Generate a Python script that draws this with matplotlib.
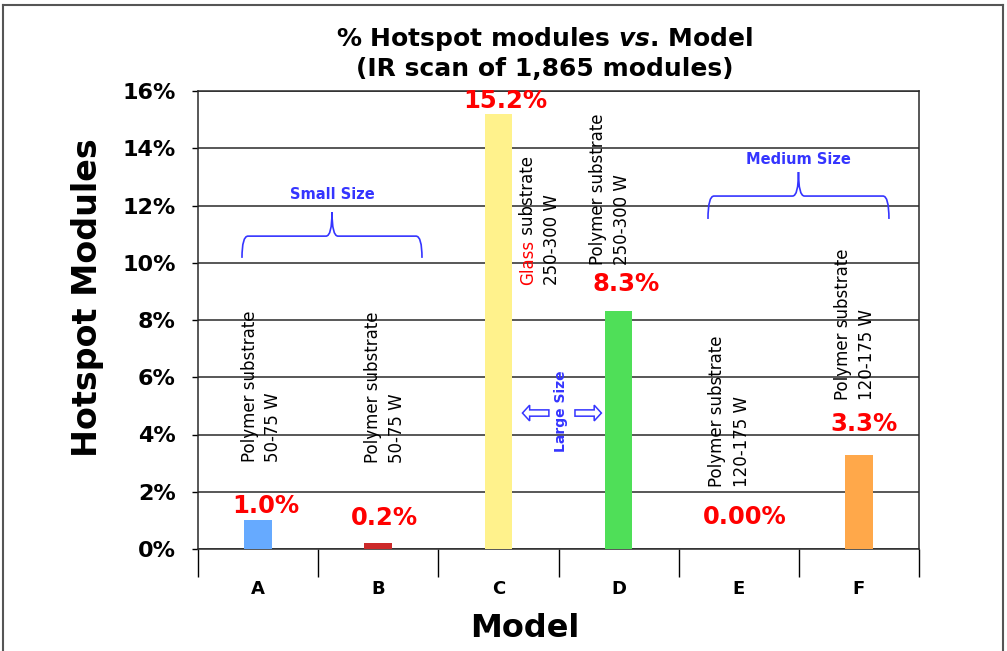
import matplotlib
matplotlib.use("Agg")
import matplotlib.pyplot as plt
import numpy as np
from matplotlib.path import Path
from matplotlib.patches import PathPatch, FancyArrow
from matplotlib.lines import Line2D

plt.rcParams["font.family"] = ["DejaVu Sans"]
plt.rcParams["mathtext.fontset"] = "custom"
plt.rcParams["mathtext.it"] = "DejaVu Sans:italic:bold"

# data
models = ["A", "B", "C", "D", "E", "F"]
values = [1.0, 0.2, 15.2, 8.3, 0.0, 3.3]
value_labels = ["1.0%", "0.2%", "15.2%", "8.3%", "0.00%", "3.3%"]
bar_colors = ["#66aaff", "#cc2a2a", "#fff28c", "#4fdf58", "#ffffff", "#ffa84a"]
note_line1 = ["Polymer substrate", "Polymer substrate", "Glass substrate",
              "Polymer substrate", "Polymer substrate", "Polymer substrate"]
note_line2 = ["50-75 W", "50-75 W", "250-300 W", "250-300 W", "120-175 W", "120-175 W"]
yticks = [0, 2, 4, 6, 8, 10, 12, 14, 16]

# layout (positions of hand-placed labels, in data units)
lab_xy = [(0.066, 1.5), (1.052, 1.08), (2.055, 15.65), (3.06, 9.26), (4.05, 1.12), (5.04, 4.37)]
note_x1 = [-0.065, 0.955, 2.245, 2.83, 3.82, 4.87]
note_x2 = [0.125, 1.16, 2.445, 3.03, 4.03, 5.07]
note_y = [3.04, 3.0, 9.22, 9.92, 2.17, 5.2]

BLUE = "#3535ff"
RED = "#ff0000"

fig = plt.figure(figsize=(10.07, 6.51), dpi=100)
ax = fig.add_axes([198 / 1007, 1 - 549 / 651, 721 / 1007, 458 / 651])

x = np.arange(len(models))
ax.bar(x, values, width=0.23, color=bar_colors, zorder=3)

ax.set_xlim(-0.5, 5.5)
ax.set_ylim(0, 16)
ax.set_yticks(yticks)
ax.set_yticklabels([f"{t}%" for t in yticks], fontsize=16, fontweight="bold")
ax.yaxis.grid(True, color="#2a2a2a", lw=1.1, zorder=0)
ax.tick_params(axis="y", length=4, width=1, pad=12, direction="out")

ax.set_xticks(x)
ax.set_xticklabels(models, fontsize=13, fontweight="bold")
ax.set_xticks(np.arange(-0.5, 6.0, 1.0), minor=True)
ax.tick_params(axis="x", which="major", length=0, pad=22)
ax.tick_params(axis="x", which="minor", length=20, width=1, direction="out")
for s in ax.spines.values():
    s.set_color("#2a2a2a")
    s.set_linewidth(1.1)

ax.set_xlabel("Model", fontsize=23, fontweight="bold")
ax.xaxis.set_label_coords(0.4535, -0.1725)
ax.xaxis.label.set_va("center")
ax.set_ylabel("Hotspot Modules", fontsize=24, fontweight="bold")
ax.yaxis.set_label_coords(-0.153, 0.548)
ax.yaxis.label.set_va("center")

# value labels
for (lx, ly), t in zip(lab_xy, value_labels):
    ax.text(lx, ly, t, color=RED, fontsize=17.5, fontweight="bold", ha="center", va="center", zorder=4)

# rotated notes
NOTE_FS = 12
for i in range(len(models)):
    if note_line1[i].startswith("Glass"):
        t1 = ax.text(note_x1[i], note_y[i], "Glass", color=RED, fontsize=NOTE_FS, rotation=90,
                     ha="center", va="bottom", zorder=4)
        ax.annotate(" substrate", xy=(0.5, 1), xycoords=t1, fontsize=NOTE_FS, rotation=90,
                    ha="center", va="bottom", zorder=4)
    else:
        ax.text(note_x1[i], note_y[i], note_line1[i], fontsize=NOTE_FS, rotation=90,
                ha="center", va="bottom", zorder=4)
    ax.text(note_x2[i], note_y[i], note_line2[i], fontsize=NOTE_FS, rotation=90,
            ha="center", va="bottom", zorder=4)


def brace(x0, x1, yb, ym, yt):
    xc = (x0 + x1) / 2
    r = 0.05
    verts = [(x0, yb), (x0, ym), (x0 + r, ym),
             (xc - r, ym), (xc, ym), (xc, yt),
             (xc, ym), (xc + r, ym),
             (x1 - r, ym), (x1, ym), (x1, yb)]
    codes = [Path.MOVETO, Path.CURVE3, Path.CURVE3,
             Path.LINETO, Path.CURVE3, Path.CURVE3,
             Path.CURVE3, Path.CURVE3,
             Path.LINETO, Path.CURVE3, Path.CURVE3]
    ax.add_patch(PathPatch(Path(verts, codes), fill=False, ec=BLUE, lw=1.2, zorder=4))


brace(-0.134, 1.364, 10.17, 10.93, 11.77)
ax.text(0.615, 12.37, "Small Size", color=BLUE, fontsize=10.5, fontweight="bold", ha="center", va="center")
brace(3.744, 5.25, 11.53, 12.33, 13.17)
ax.text(4.5, 13.59, "Medium Size", color=BLUE, fontsize=10.5, fontweight="bold", ha="center", va="center")

# large size marker
ax.text(2.52, 4.82, "Large Size", color=BLUE, fontsize=10, fontweight="bold", rotation=90,
        ha="center", va="center", zorder=4)
ax.add_patch(FancyArrow(2.42, 4.75, -0.22, 0, width=0.22, head_width=0.55, head_length=0.06,
                        length_includes_head=True, fc="white", ec=BLUE, lw=1.1, zorder=4))
ax.add_patch(FancyArrow(2.637, 4.75, 0.22, 0, width=0.22, head_width=0.55, head_length=0.06,
                        length_includes_head=True, fc="white", ec=BLUE, lw=1.1, zorder=4))

fig.text(0.541, 0.919, "% Hotspot modules $vs$. Model\n(IR scan of 1,865 modules)",
         fontsize=18, fontweight="bold", ha="center", va="center", linespacing=1.2)

# outer frame
for xs, ys in [([0.003, 0.003], [0.0, 0.992]), ([0.003, 0.996], [0.992, 0.992]),
               ([0.996, 0.996], [0.0, 0.992])]:
    fig.add_artist(Line2D(xs, ys, color="#555555", lw=1.5, transform=fig.transFigure))

fig.savefig("out.png", dpi=100)
